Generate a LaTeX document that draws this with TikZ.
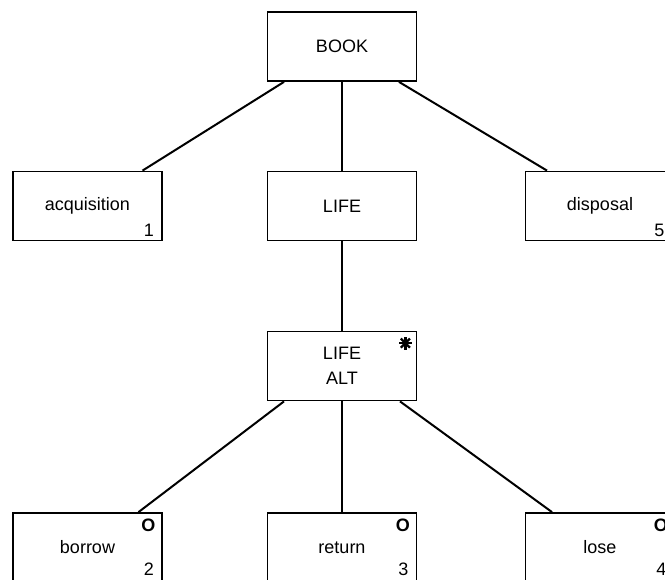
\documentclass[tikz,border=0pt]{standalone}
\usepackage{fontspec}
\setmainfont{Liberation Sans}
\usetikzlibrary{calc}
\begin{document}
\begin{tikzpicture}[x=1pt,y=-1pt,
  box/.style={draw, line width=1.8pt, minimum width=149pt, minimum height=69pt,
    inner sep=0pt, align=center, font=\fontsize{18}{25}\selectfont},
  link/.style={line width=2pt},
  num/.style={inner sep=0pt, anchor=base, font=\fontsize{18}{20}\selectfont},
  selmark/.style={inner sep=0pt, font=\fontsize{18}{20}\selectfont\bfseries},
  starline/.style={line width=2.2pt}]
\useasboundingbox (0,0) rectangle (665,580);
\fill[white] (0,0) rectangle (665,580);
\clip (0,0) rectangle (665,580);

% boxes
\node[box] (book)    at (342,46.5)  {BOOK};
\node[box] (acq)     at (87.5,206)  {acquisition};
\node[box] (life)    at (342,206)   {LIFE};
\node[box] (disp)    at (600,206)   {disposal};
\node[box] (alt)     at (342,366)   {LIFE\\ALT};
\node[box] (borrow)  at (87.5,547.5) {borrow};
\node[box] (ret)     at (342,547.5) {return};
\node[box] (lose)    at (600,547.5) {lose};

% connectors
\draw[link] ($(book.south)+(-58,0)$) -- ($(acq.north)+(55,0)$);
\draw[link] (book.south) -- (life.north);
\draw[link] ($(book.south)+(57,0)$) -- ($(disp.north)+(-53,0)$);
\draw[link] (life.south) -- (alt.north);
\draw[link] ($(alt.south)+(-58,0)$) -- ($(borrow.north)+(51,0)$);
\draw[link] (alt.south) -- (ret.north);
\draw[link] ($(alt.south)+(58,0)$) -- ($(lose.north)+(-48,0)$);

% sequence numbers
\node[num] (n1) at ($(acq.south east)+(-14,-5)$)    {1};
\node[num] (n2) at ($(borrow.south east)+(-14,-7)$) {2};
\node[num] (n3) at ($(ret.south east)+(-14,-7)$)    {3};
\node[num] (n4) at ($(lose.south east)+(-14,-7)$)   {4};
\node[num] (n5) at ($(disp.south east)+(-16,-5)$)   {5};

% selection markers
\node[selmark] (o2) at ($(borrow.north east)+(-14.5,13)$) {O};
\node[selmark] (o3) at ($(ret.north east)+(-14.5,13)$)    {O};
\node[selmark] (o4) at ($(lose.north east)+(-14.5,13)$)   {O};

% iteration marker
\coordinate (star) at ($(alt.north east)+(-12,12.5)$);
\foreach \a in {0,45,90,135}
  \draw[starline] ($(star)+(\a:6.5)$) -- ($(star)+(\a+180:6.5)$);
\end{tikzpicture}
\end{document}
